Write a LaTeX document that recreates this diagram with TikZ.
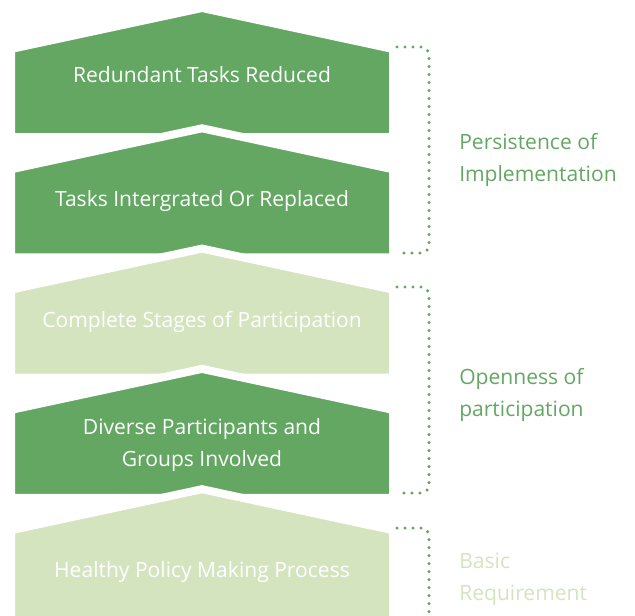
\documentclass[tikz,border=0pt]{standalone}
\usepackage{fontspec}
\setmainfont{Open Sans}
\definecolor{leafdark}{HTML}{63A762}
\definecolor{leaflight}{HTML}{D4E4BF}
\tikzset{
	chevron/.style = {draw = white, line width = 6pt, line join = miter},
	stagetext/.style = {text = white, font = \fontsize{15.8}{24}\selectfont, align = center, anchor = base, inner sep = 0pt},
	grouptext/.style = {font = \fontsize{15.8}{24}\selectfont, align = left, anchor = base west, inner sep = 0pt},
	bracket/.style = {leafdark, line width = 2.6pt, line cap = round, dash pattern = on 0pt off 6pt, rounded corners = 6pt}
}
\begin{document}
\begin{tikzpicture}[x = 0.75pt, y = -0.75pt]

\useasboundingbox (0, 0) rectangle (635, 615);

% stacked arrows, drawn from the top down
\filldraw[chevron, fill = leafdark]
	(11, 162.3) -- (11, 49) -- (202, 8) -- (393, 49) -- (393, 137) -- (11, 137) -- cycle;
\filldraw[chevron, fill = leafdark]
	(11, 282.6) -- (11, 169.3) -- (202, 128.3) -- (393, 169.3) -- (393, 257.3) -- (11, 257.3) -- cycle;
\filldraw[chevron, fill = leaflight]
	(11, 402.9) -- (11, 289.6) -- (202, 248.6) -- (393, 289.6) -- (393, 377.6) -- (11, 377.6) -- cycle;
\filldraw[chevron, fill = leafdark]
	(11, 523.2) -- (11, 409.9) -- (202, 368.9) -- (393, 409.9) -- (393, 497.9) -- (11, 497.9) -- cycle;
\filldraw[chevron, fill = leaflight]
	(11, 640) -- (11, 530.2) -- (202, 489.2) -- (393, 530.2) -- (393, 640) -- cycle;

\node[stagetext] (reduced) at (202, 82.7) {Redundant Tasks Reduced};
\node[stagetext] (integrated) at (202, 206) {Tasks Intergrated Or Replaced};
\node[stagetext] (stages) at (202, 327.3) {Complete Stages of Participation};
\node[stagetext] (diverse) at (202, 466) {Diverse Participants and\\Groups Involved};
\node[stagetext] (healthy) at (202, 577.3) {Healthy Policy Making Process};

% dotted brackets
\coordinate (persistTop) at (397, 47);
\coordinate (persistBot) at (397, 253);
\coordinate (persistEdge) at (429, 253);
\coordinate (openTop) at (397, 287);
\coordinate (openBot) at (397, 493);
\coordinate (openEdge) at (429, 493);
\coordinate (basicTop) at (397, 528);
\coordinate (basicEdge) at (429, 640);

\draw[bracket] (persistTop) -| (persistEdge) -- (persistBot);
\draw[bracket] (openTop) -| (openEdge) -- (openBot);
\draw[bracket] (basicTop) -| (basicEdge);

\node[grouptext, text = leafdark] (persistence) at (459, 181.7) {Persistence of\\Implementation};
\node[grouptext, text = leafdark] (openness) at (459, 416.7) {Openness of\\participation};
\node[grouptext, text = leaflight] (basic) at (459, 600) {Basic\\Requirement};

\end{tikzpicture}
\end{document}
